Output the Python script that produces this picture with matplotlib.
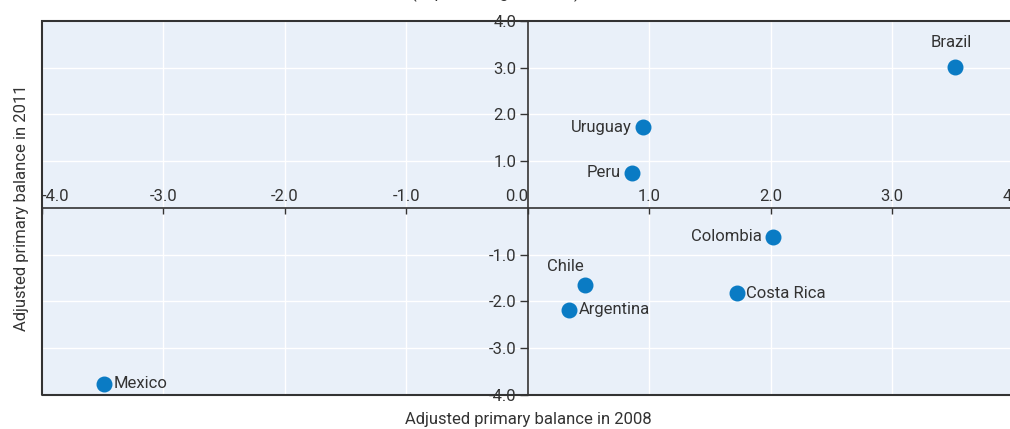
import matplotlib.pyplot as plt
from matplotlib.patches import Rectangle

plt.rcParams['font.family'] = ['Roboto', 'DejaVu Sans']

countries = ['Brazil', 'Uruguay', 'Peru', 'Colombia', 'Chile', 'Costa Rica', 'Argentina', 'Mexico']
bal_2008 = [3.52, 0.95, 0.86, 2.02, 0.47, 1.72, 0.34, -3.49]
bal_2011 = [3.02, 1.73, 0.75, -0.62, -1.65, -1.82, -2.18, -3.76]
label_side = ['top', 'left', 'left', 'left', 'topleft', 'right', 'right', 'right']

xticks = [-4, -3, -2, -1, 0, 1, 2, 3, 4]
yticks = [-4, -3, -2, -1, 1, 2, 3, 4]

txt = '#333333'
dot = '#0A7BC4'
fs = 12

fig = plt.figure(figsize=(10.10, 4.29), dpi=100)
ax = fig.add_axes([0.0416, 0.0793, 0.962, 0.872])
ax.set_facecolor('#E9F0F9')
ax.set_xlim(-4, 4)
ax.set_ylim(-4, 4)

ax.grid(True, color='white', lw=1)
ax.set_axisbelow(True)

ax.spines['left'].set_position(('data', 0))
ax.spines['top'].set_position(('data', 0))
ax.spines['right'].set_visible(False)
for s in ['left', 'top', 'bottom']:
    ax.spines[s].set_color('#333333')
    ax.spines[s].set_linewidth(1.2)
ax.add_patch(Rectangle((0, 0), 1, 1, transform=ax.transAxes, fill=False,
                       edgecolor='#333333', lw=1.5, clip_on=False, zorder=5))

ax.xaxis.tick_top()
ax.set_xticks(xticks)
ax.set_xticklabels(['%.1f' % v for v in xticks])
ax.tick_params(axis='x', direction='in', length=4, width=1, color='#333333',
               labelsize=fs, labelcolor=txt, pad=3)
ax.set_yticks(yticks)
ax.set_yticklabels(['%.1f' % v for v in yticks])
ax.tick_params(axis='y', direction='out', length=6, width=1, color='#333333',
               labelsize=fs, labelcolor=txt, pad=2)
xl = ax.get_xticklabels()
xl[0].set_ha('left')
xl[4].set_ha('right')

ax.scatter(bal_2008, bal_2011, s=110, color=dot, zorder=6, clip_on=False)

for name, x, y, side in zip(countries, bal_2008, bal_2011, label_side):
    if side == 'top':
        ax.annotate(name, (x, y), xytext=(-3, 12), textcoords='offset points',
                    ha='center', va='bottom', fontsize=fs, color=txt)
    elif side == 'left':
        ax.annotate(name, (x, y), xytext=(-8, 0), textcoords='offset points',
                    ha='right', va='center', fontsize=fs, color=txt)
    elif side == 'topleft':
        ax.annotate(name, (x, y), xytext=(-14, 8), textcoords='offset points',
                    ha='center', va='bottom', fontsize=fs, color=txt)
    else:
        ax.annotate(name, (x, y), xytext=(7, 0), textcoords='offset points',
                    ha='left', va='center', fontsize=fs, color=txt)

ax.set_xlabel('Adjusted primary balance in 2008', fontsize=fs, color=txt, labelpad=12)
ax.set_ylabel('Adjusted primary balance in 2011', fontsize=fs, color=txt)
ax.xaxis.set_label_position('bottom')
ax.yaxis.set_label_coords(-0.013, 0.5)

fig.text(0.49, 1.004, '(In percentage of GDP)', ha='center', va='baseline',
         fontsize=fs, color=txt)

fig.savefig('out.png', dpi=100)
